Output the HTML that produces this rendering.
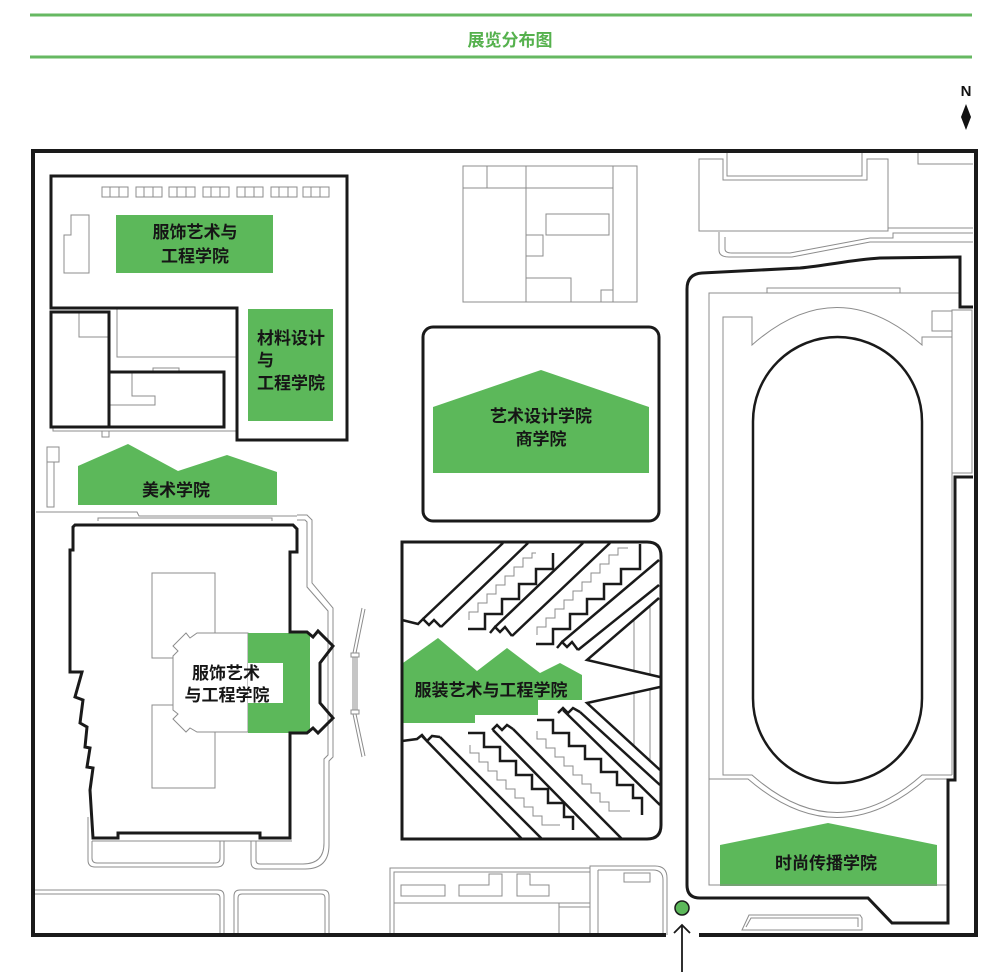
<!DOCTYPE html>
<html><head><meta charset="utf-8"><style>
html,body{margin:0;padding:0;background:#fff;}
svg{display:block;}
text{font-family:"Liberation Sans","Noto Sans CJK SC",sans-serif;font-weight:bold;}
</style></head><body>
<svg width="1002" height="972" viewBox="0 0 1002 972" xmlns="http://www.w3.org/2000/svg">
<rect width="1002" height="972" fill="#fff"/>
<!-- header -->
<rect x="30" y="13.5" width="942" height="3" fill="#66b862"/>
<rect x="30" y="55.5" width="942" height="3" fill="#66b862"/>
<text x="510" y="46" font-size="17" fill="#55b14d" text-anchor="middle">展览分布图</text>
<text x="966" y="96" font-size="15" text-anchor="middle" fill="#111">N</text>
<path d="M966,104 L971,117 L966,130 L961,117Z" fill="#111"/>

<!-- green areas -->
<g fill="#5cb85a">
<rect x="116" y="215" width="157" height="58"/>
<rect x="248" y="309" width="85" height="112"/>
<polygon points="78,466 128,444 178,471 227,455 277,472 277,505 78,505"/>
<polygon points="433,407 541,370 649,407 649,473 433,473"/>
<polygon points="403,663 438,638 477,671 507,648 540,673 560,663 582,675 582,700 538,700 538,715 475,715 475,723 403,723"/>
<polygon points="720,845 828,823 937,845 937,886 720,886"/>
</g>

<!-- thin gray lines -->
<g fill="none" stroke="#8c8c8c" stroke-width="1">
<rect x="102" y="187" width="26" height="10"/><line x1="110" y1="187" x2="110" y2="197"/><line x1="119" y1="187" x2="119" y2="197"/>
<rect x="136" y="187" width="26" height="10"/><line x1="144" y1="187" x2="144" y2="197"/><line x1="153" y1="187" x2="153" y2="197"/>
<rect x="169" y="187" width="26" height="10"/><line x1="177" y1="187" x2="177" y2="197"/><line x1="186" y1="187" x2="186" y2="197"/>
<rect x="203" y="187" width="26" height="10"/><line x1="211" y1="187" x2="211" y2="197"/><line x1="220" y1="187" x2="220" y2="197"/>
<rect x="237" y="187" width="26" height="10"/><line x1="245" y1="187" x2="245" y2="197"/><line x1="254" y1="187" x2="254" y2="197"/>
<rect x="271" y="187" width="26" height="10"/><line x1="279" y1="187" x2="279" y2="197"/><line x1="288" y1="187" x2="288" y2="197"/>
<rect x="303" y="187" width="26" height="10"/><line x1="311" y1="187" x2="311" y2="197"/><line x1="320" y1="187" x2="320" y2="197"/>
<path d="M64,273 V235 H71 V215 H89 V273 Z"/>
<path d="M117,308 V357 H237"/>
<path d="M79,312 V337 H109"/>
<rect x="153" y="368" width="26" height="4"/>
<path d="M132,372 V396 H155 V405 H109"/>
<path d="M53,427 V431 H237"/>
<rect x="102" y="431" width="7" height="6"/>
<rect x="47" y="447" width="12" height="15"/>
<rect x="47" y="462" width="7" height="45"/>
<path d="M36,512 H137 L139,516 H297"/>
<path d="M98,521 V518 H272 V521"/>
<path d="M297,515 H307 L312,520 V583 L333,608 V757 L329,761 V845 Q329,869 305,869 H258 Q251,869 251,862 V841"/>
<path d="M297,520 H305 L307,522 V587 L328,611 V755 L324,759 V843 Q324,864 303,864 H260 Q256,864 256,860 V841"/>
<path d="M88,817 V860 Q88,867 95,867 H217 Q224,867 224,860 V841"/>
<path d="M92,841 V858 Q92,863 97,863 H215 Q220,863 220,858 V841"/>
<path d="M92,841 H292"/>
<path d="M362,608 L353,653 M365,609 L356,653"/>
<rect x="351" y="653" width="8" height="4"/>
<path d="M353,657 V710 M355,657 V710 M357,657 V710"/>
<rect x="351" y="710" width="8" height="4"/>
<path d="M353,714 L362,757 M356,714 L365,756"/>
<rect x="152" y="573" width="63" height="85"/>
<rect x="152" y="705" width="63" height="83"/>
<path d="M33,890 H218 Q224,890 224,896 V935"/>
<path d="M33,894 H216 Q220,894 220,898 V935"/>
<path d="M234,935 V896 Q234,890 240,890 H323 Q329,890 329,896 V935"/>
<path d="M238,935 V898 Q238,894 242,894 H321 Q325,894 325,898 V935"/>
<path d="M390,935 V868 H590 V866 H655 Q667,866 667,878 V935"/>
<path d="M394,935 V872 H590"/>
<path d="M590,866 V935 M598,870 V935 M598,870 H653 Q663,870 663,880 V935"/>
<path d="M394,903 H590 M559,903 V935 M559,907 H590"/>
<rect x="401" y="885" width="44" height="11"/>
<path d="M459,885 H489 V874 H502 V896 H459 Z"/>
<path d="M517,874 H530 V885 H549 V896 H517 Z"/>
<rect x="624" y="873" width="26" height="9"/>
<rect x="463" y="166" width="174" height="136"/>
<path d="M463,188 H613"/>
<rect x="463" y="166" width="24" height="22"/>
<path d="M526,166 V302 M613,166 V302"/>
<rect x="546" y="214" width="63" height="21"/>
<rect x="526" y="235" width="17" height="21"/>
<rect x="526" y="278" width="45" height="24"/>
<rect x="601" y="290" width="12" height="12"/>
<path d="M699,231 V159 H723 V180 H867 V159 H888 V231 Z"/>
<path d="M727,153 V176 H862 V153"/>
<path d="M918,153 V164 H973"/>
<path d="M888,228 H973"/>
<path d="M719,232 V250 Q719,257 729,257 H792 L870,242 H973"/>
<path d="M725,237 V249 Q725,253 732,253 H790 L870,238 H893 V233 H973"/>
<path d="M959,293 H709 V885 H947 V783"/>
<rect x="767" y="288" width="133" height="5"/>
<path d="M952,337 H922 V345 Q837,270 752,345 V317 H723 V775 H752 Q837,850 922,775 H952"/>
<path d="M952,310 V775"/>
<rect x="952" y="310" width="20" height="163"/>
<rect x="932" y="311" width="20" height="20"/>
<path d="M709,779 H748 Q837,856 926,779 H947"/>
<path d="M742,930 L749,915 H860 L862,918 V930 Z"/>
<path d="M746,927 L751,918 H858 V927"/>
<path d="M469,620 V612 H478 V603 H487 V594 H496 V585 H505 V576 H514 V567 H523 V558 H532 V553 H536"/>
<path d="M537,635 V627 H546 V618 H555 V609 H564 V600 H573 V591 H582 V582 H591 V573 H600 V564 H609 V555 H618 V548 H628"/>
<path d="M470,745 V753 H479 V762 H488 V771 H497 V780 H506 V789 H515 V798 H524 V807 H533 V816 H542 V825 H560"/>
<path d="M537,731 V739 H546 V748 H555 V757 H564 V766 H573 V775 H582 V784 H591 V793 H600 V802 H609 V811 H630"/>
<path d="M634,620 V671 M650,606 V675 M634,693 V746 M650,689 V761"/>
</g>

<path d="M197,633 L190,638 L186,633 L173,646 L178,651 L173,656 V710 L178,714 L173,719 L186,732 L190,728 L197,732 H248 V633 Z" fill="#fff" stroke="#8c8c8c" stroke-width="1"/>
<path d="M248,633 H310 V733 H248 Z" fill="#5cb85a"/>
<rect x="248" y="663" width="35" height="40" fill="#fff"/>

<g fill="none" stroke="#1a1a1a" stroke-width="3" stroke-linejoin="miter">
<path d="M666,935 H33 V151 H976 V935 H699" stroke-width="4"/>
<path d="M51,176 H347 V440 H237 V308 H51 Z"/>
<rect x="51" y="312" width="58" height="115"/>
<rect x="109" y="372" width="115" height="55"/>
<rect x="423" y="327" width="236" height="194" rx="10"/>
<path d="M75,525 H293 L297,529 V552 H290 V632 H307 L313,637 L318,631 L333,646 L320,663 V703 L333,718 L318,733 L313,728 L307,733 H290 V838 H260 V833 H118 V838 H93 L90,790 L93,768 L87,767 L90,748 L85,747 L87,727 L80,723 L83,700 L75,697 L82,672 H70 V550 H73 V527 Z"/>
<path d="M973,307 H960 V257 L880,258 C850,260 830,265 800,268 L702,273 Q687,274 687,289 V885 Q687,898 700,898 H868 L892,923 H948 V780 H955 V477 H973"/>
<rect x="753" y="337" width="169" height="446" rx="84.5" stroke-width="2.5"/>
<path d="M402,542 H647 Q661,542 661,556 V825 Q661,839 647,839 H402 Z"/>
</g>
<g fill="none" stroke="#1a1a1a" stroke-width="2.5" stroke-linejoin="miter">
<path d="M402,620 L418,624 L423,619 L429,625 L434,620 L441,627"/>
<path d="M423,619 L503,543 M441,627 L528,543"/>
<path d="M468,629 H485 V614 H502 V599 H519 V584 H536 V569 H553 V553"/>
<path d="M490,633 L495,627 L500,632 L505,627 L512,636"/>
<path d="M495,627 L583,543 M512,636 L610,543"/>
<path d="M536,644 H553 V629 H570 V614 H587 V599 H604 V584 H621 V569 H640 V544"/>
<path d="M557,648 L562,642 L567,647 L572,642 L578,650"/>
<path d="M562,642 L659,560 M578,650 L659,585"/>
<path d="M659,598 L587,660 L660,677"/>
<path d="M402,741 L417,739 L422,735 L427,741 L432,736 L440,737"/>
<path d="M422,736 L522,839 M440,737 L542,839"/>
<path d="M468,733 H484 V747 H500 V761 H516 V775 H532 V789 H548 V803 H564 V817 H573 V830"/>
<path d="M492,730 L497,725 L502,730 L507,725 L513,729"/>
<path d="M493,730 L600,839 M513,729 L622,839"/>
<path d="M537,720 H553 V733 H569 V746 H585 V759 H601 V772 H617 V785 H633 V798 H642 V815"/>
<path d="M558,713 L563,708 L568,713 L573,708 L580,712"/>
<path d="M563,710 L660,805 M580,712 L660,785"/>
<path d="M660,687 L587,703 L660,770"/>
</g>

<circle cx="682" cy="908" r="7" fill="#5cb85a" stroke="#1a1a1a" stroke-width="1.5"/>
<path d="M682,925 V972 M674,933 L682,925 L690,933" fill="none" stroke="#1a1a1a" stroke-width="1.8"/>

<g font-size="17" fill="#161616">
<text x="195" y="238" text-anchor="middle">服饰艺术与</text>
<text x="195" y="262" text-anchor="middle">工程学院</text>
<text x="257" y="344">材料设计</text>
<text x="257" y="366">与</text>
<text x="257" y="389">工程学院</text>
<text x="176" y="496" text-anchor="middle">美术学院</text>
<text x="541" y="422" text-anchor="middle">艺术设计学院</text>
<text x="541" y="445" text-anchor="middle">商学院</text>
<text x="226" y="679" text-anchor="middle">服饰艺术</text>
<text x="227" y="701" text-anchor="middle">与工程学院</text>
<text x="491" y="696" text-anchor="middle">服装艺术与工程学院</text>
<text x="826" y="869" text-anchor="middle">时尚传播学院</text>
</g>
</svg>
</body></html>
